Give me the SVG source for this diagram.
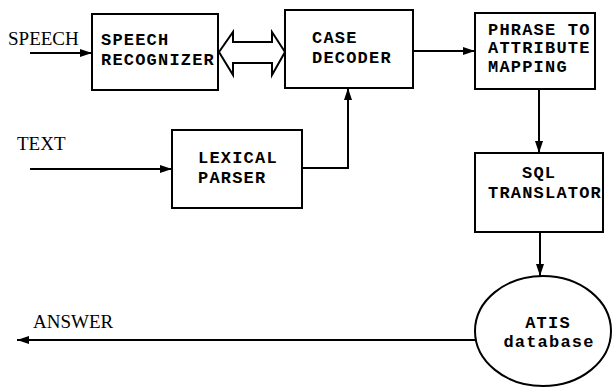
<svg xmlns="http://www.w3.org/2000/svg" width="613" height="387" viewBox="0 0 613 387">
<defs>
<marker id="ah" viewBox="0 0 12 8" refX="12" refY="4" markerWidth="12" markerHeight="8" markerUnits="userSpaceOnUse" orient="auto">
<path d="M0,0 L12,4 L0,8 Z" fill="#000"/>
</marker>
</defs>
<style>
.box{fill:#fff;stroke:#000;stroke-width:2}
.lbl{font-family:"Liberation Mono","DejaVu Sans Mono",monospace;font-weight:bold;font-size:17px;letter-spacing:1.2px;fill:#000}
.io{font-family:"Liberation Serif","Times New Roman",serif;font-size:19px;fill:#000}
.ln{fill:none;stroke:#000;stroke-width:2}
</style>
<rect width="613" height="387" fill="#fff"/>
<g id="connectors">
<line class="ln" x1="30" y1="53" x2="92" y2="53" marker-end="url(#ah)"/>
<line class="ln" x1="30" y1="169" x2="172" y2="169" marker-end="url(#ah)"/>
<polyline class="ln" points="302,168 348,168 348,88" marker-end="url(#ah)"/>
<line class="ln" x1="413" y1="51" x2="475" y2="51" marker-end="url(#ah)"/>
<line class="ln" x1="539" y1="89" x2="539" y2="153" marker-end="url(#ah)"/>
<line class="ln" x1="540" y1="232" x2="540" y2="276" marker-end="url(#ah)"/>
<line class="ln" x1="476" y1="340" x2="17" y2="340" marker-end="url(#ah)"/>
<path class="ln" d="M219,52 L233,32 L233,42 L272,42 L272,32 L285,52 L272,75 L272,63 L233,63 L233,75 Z" fill="#fff"/>
</g>
<g id="speech-in"><text class="io" x="8" y="45">SPEECH</text></g>
<g id="text-in"><text class="io" x="17" y="150">TEXT</text></g>
<g id="answer-out"><text class="io" x="33" y="328">ANSWER</text></g>
<g id="speech-recognizer">
<rect class="box" x="92" y="14" width="126" height="76"/>
<text class="lbl" x="101" y="45">SPEECH</text>
<text class="lbl" x="101" y="65">RECOGNIZER</text>
</g>
<g id="case-decoder">
<rect class="box" x="285" y="10" width="128" height="78"/>
<text class="lbl" x="312" y="43">CASE</text>
<text class="lbl" x="312" y="63">DECODER</text>
</g>
<g id="phrase-mapping">
<rect class="box" x="475" y="13" width="120" height="76"/>
<text class="lbl" x="488" y="35">PHRASE TO</text>
<text class="lbl" x="488" y="53">ATTRIBUTE</text>
<text class="lbl" x="488" y="72">MAPPING</text>
</g>
<g id="lexical-parser">
<rect class="box" x="172" y="130" width="130" height="78"/>
<text class="lbl" x="198" y="163">LEXICAL</text>
<text class="lbl" x="198" y="183">PARSER</text>
</g>
<g id="sql-translator">
<rect class="box" x="475" y="153" width="128" height="79"/>
<text class="lbl" x="522" y="178">SQL</text>
<text class="lbl" x="488" y="198">TRANSLATOR</text>
</g>
<g id="atis-database">
<ellipse class="box" cx="543" cy="331" rx="68" ry="55"/>
<text class="lbl" x="548" y="328" text-anchor="middle">ATIS</text>
<text class="lbl" x="549" y="347" text-anchor="middle">database</text>
</g>
</svg>
